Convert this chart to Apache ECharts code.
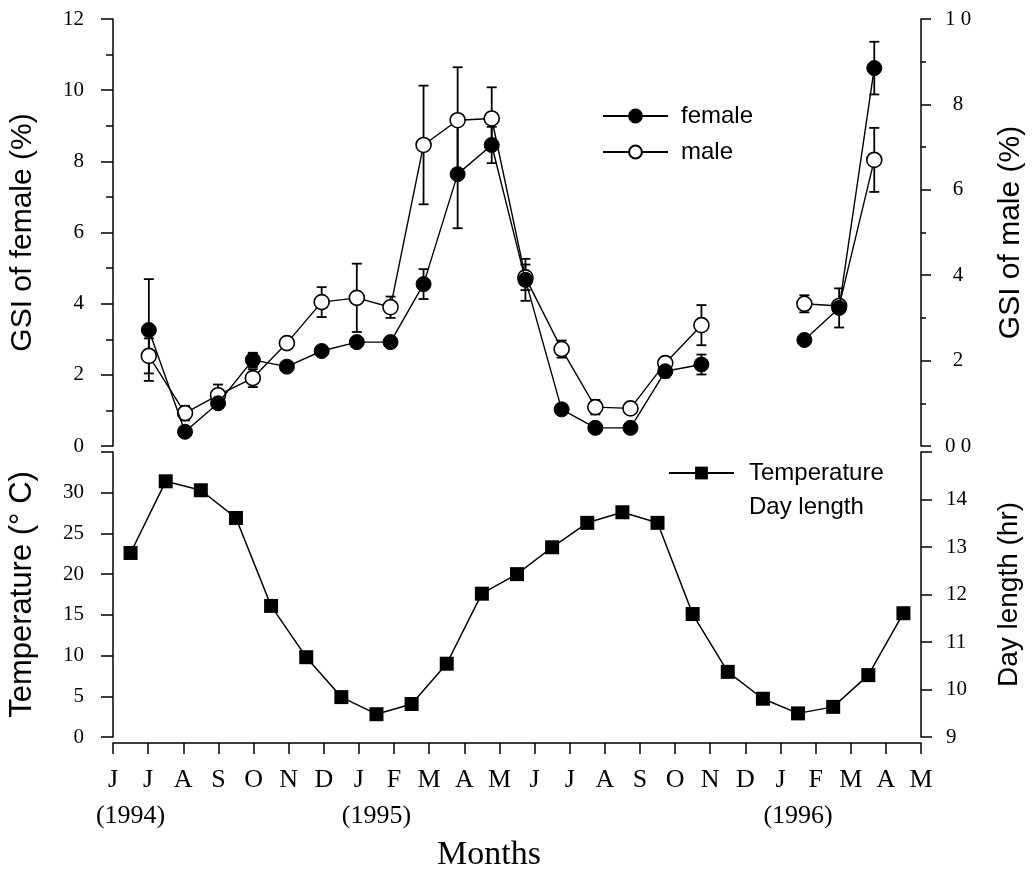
<!DOCTYPE html>
<html><head><meta charset="utf-8">
<script src="https://cdn.jsdelivr.net/npm/echarts@6.0.0/dist/echarts.min.js"></script>
<style>html,body{margin:0;padding:0;background:#fff}#c{width:1035px;height:871px}</style>
</head><body><div id="c"></div>
<script>
// ---- data ----
const monthLabels = ['J','J','A','S','O','N','D','J','F','M','A','M','J','J','A','S','O','N','D','J','F','M','A','M'];
const yearLabels = ['(1994)','','','','','','','(1995)','','','','','','','','','','','','(1996)','','',''];
// sampling date of GSI samples, in months from June 1994 (null = no sample)
const sampleMonth = [1.02, 2.05, 2.99, 3.98, 4.95, 5.94, 6.94, 7.90, 8.84, 9.81, 10.78, 11.74, 12.77, 13.73, 14.73, 15.72, 16.75, null, null, 19.68, 20.67, 21.67];
const femaleGSI = [3.26, 0.40, 1.20, 2.42, 2.23, 2.67, 2.92, 2.92, 4.55, 7.64, 8.46, 4.67, 1.03, 0.51, 0.51, 2.10, 2.29, null, null, 2.98, 3.88, 10.62];
const femaleSE  = [1.43, 0.05, 0.08, 0.20, 0.12, 0.12, 0.05, 0.05, 0.42, 1.52, 0.51, 0.59, 0.08, 0.03, 0.03, 0.17, 0.28, null, null, 0.05, 0.55, 0.74];
const maleGSI   = [2.11, 0.77, 1.19, 1.59, 2.41, 3.37, 3.47, 3.25, 7.05, 7.63, 7.67, 3.95, 2.27, 0.91, 0.88, 1.94, 2.83, null, null, 3.33, 3.28, 6.70];
const maleSE    = [0.41, 0.17, 0.25, 0.21, 0.10, 0.35, 0.80, 0.25, 1.39, 1.24, 0.73, 0.30, 0.20, 0.17, 0.06, 0.14, 0.47, null, null, 0.20, 0.10, 0.75];
// monthly mean water temperature, Jun 1994 .. Apr 1996
const temperature = [22.6, 31.4, 30.3, 26.9, 16.1, 9.8, 4.9, 2.8, 4.05, 9.0, 17.6, 20.0, 23.3, 26.3, 27.6, 26.3, 15.1, 8.0, 4.7, 2.9, 3.7, 7.6, 15.2];
const periodNames = temperature.map((_, i) => 'p' + i);

// ---- build ----
const SERIF = 'Liberation Serif';
const SANS = 'Liberation Sans';
function pts(vals) {
  return sampleMonth.map((x, i) => (x == null || vals[i] == null) ? ['-', '-'] : [x, vals[i]]);
}
function errPts(vals, se) {
  const out = [];
  sampleMonth.forEach((x, i) => { if (x != null && vals[i] != null) out.push([x, vals[i], se[i]]); });
  return out;
}
function errRenderer(params, api) {
  const x = api.value(0), y = api.value(1), e = api.value(2);
  const top = api.coord([x, y + e]), bot = api.coord([x, y - e]);
  const w = 5, st = { stroke: '#000', lineWidth: 1.8 };
  return { type: 'group', children: [
    { type: 'line', shape: { x1: top[0], y1: top[1], x2: bot[0], y2: bot[1] }, style: st },
    { type: 'line', shape: { x1: top[0] - w, y1: top[1], x2: top[0] + w, y2: top[1] }, style: st },
    { type: 'line', shape: { x1: bot[0] - w, y1: bot[1], x2: bot[0] + w, y2: bot[1] }, style: st }
  ]};
}
const axisLine = { show: true, onZero: false, lineStyle: { color: '#000', width: 1.5 } };
const tickStyle = { color: '#000', width: 1.5 };

const chart = echarts.init(document.getElementById('c'), null, { renderer: 'canvas' });
chart.setOption({
  animation: false,
  backgroundColor: '#fff',
  grid: [
    { left: 113, top: 19, width: 808, height: 427, outerBoundsMode: 'none', containLabel: false },
    { left: 113, top: 452, width: 808, height: 285, outerBoundsMode: 'none', containLabel: false },
    { left: 113, top: 452, width: 808, height: 285, outerBoundsMode: 'none', containLabel: false }
  ],
  xAxis: [
    { type: 'value', gridIndex: 0, min: 0, max: 23, show: false },
    { type: 'value', gridIndex: 1, min: 0, max: 23, interval: 1, position: 'bottom', offset: 6,
      axisLine: axisLine, axisTick: { show: true, length: 11, inside: false, lineStyle: tickStyle },
      splitLine: { show: false },
      axisLabel: { show: true, margin: 24, color: '#000', fontFamily: SERIF, fontSize: 26,
        formatter: v => monthLabels[v] || '' } },
    { type: 'category', gridIndex: 2, data: periodNames, boundaryGap: true, position: 'bottom', offset: 6,
      axisLine: { show: false }, axisTick: { show: false }, splitLine: { show: false },
      axisLabel: { show: true, interval: 0, margin: 60, color: '#000', fontFamily: SERIF, fontSize: 26,
        formatter: (v, i) => yearLabels[i] },
      name: 'Months', nameLocation: 'middle', nameGap: 95, nameMoveOverlap: false,
      nameTextStyle: { color: '#000', fontFamily: SERIF, fontSize: 34, padding: [0, 56, 0, 0] } }
  ],
  yAxis: [
    { type: 'value', gridIndex: 0, position: 'left', min: 0, max: 12, interval: 2,
      axisLine: axisLine, axisTick: { show: true, length: 12, lineStyle: tickStyle },
      minorTick: { show: true, splitNumber: 2, length: 7, lineStyle: tickStyle },
      splitLine: { show: false }, minorSplitLine: { show: false },
      axisLabel: { margin: 29, color: '#000', fontFamily: SERIF, fontSize: 21 },
      name: 'GSI of female (%)', nameLocation: 'middle', nameRotate: 90, nameGap: 75, nameMoveOverlap: false,
      nameTextStyle: { color: '#000', fontFamily: SANS, fontSize: 30 } },
    { type: 'value', gridIndex: 0, position: 'right', min: 0, max: 10, interval: 2,
      axisLine: axisLine, axisTick: { show: true, length: 10, lineStyle: tickStyle },
      minorTick: { show: true, splitNumber: 2, length: 5, lineStyle: tickStyle },
      splitLine: { show: false }, minorSplitLine: { show: false },
      axisLabel: { margin: 37, align: 'center', color: '#000', fontFamily: SERIF, fontSize: 21,
        formatter: v => v === 10 ? '1 0' : (v === 0 ? '0 0' : String(v)) },
      name: 'GSI of male (%)', nameLocation: 'middle', nameRotate: 90, nameGap: 75, nameMoveOverlap: false,
      nameTextStyle: { color: '#000', fontFamily: SANS, fontSize: 30 } },
    { type: 'value', gridIndex: 1, position: 'left', min: 0, max: 35, interval: 5,
      axisLine: axisLine, axisTick: { show: true, length: 12, lineStyle: tickStyle },
      splitLine: { show: false },
      axisLabel: { margin: 29, color: '#000', fontFamily: SERIF, fontSize: 21,
        formatter: v => v === 35 ? '' : String(v) },
      name: 'Temperature (° C)', nameLocation: 'middle', nameRotate: 90, nameGap: 75, nameMoveOverlap: false,
      nameTextStyle: { color: '#000', fontFamily: SANS, fontSize: 31 } },
    { type: 'value', gridIndex: 1, position: 'right', min: 9, max: 15, interval: 1,
      axisLine: axisLine, axisTick: { show: true, length: 11, lineStyle: tickStyle },
      splitLine: { show: false },
      axisLabel: { margin: 25, color: '#000', fontFamily: SERIF, fontSize: 21,
        formatter: v => v === 15 ? '' : String(v) },
      name: 'Day length (hr)', nameLocation: 'middle', nameRotate: 90, nameGap: 74, nameMoveOverlap: false,
      nameTextStyle: { color: '#000', fontFamily: SANS, fontSize: 28 } },
    { type: 'value', gridIndex: 2, min: 0, max: 35, show: false }
  ],
  legend: [
    { orient: 'vertical', left: 597, top: 99, itemWidth: 65, itemHeight: 16, itemGap: 12,
      data: ['female', 'male'],
      textStyle: { color: '#000', fontFamily: SANS, fontSize: 24, padding: [0, 0, 0, 8] } },
    { orient: 'vertical', left: 663, top: 456, itemWidth: 65, itemHeight: 16, itemGap: 10,
      data: ['Temperature', 'Day length'],
      textStyle: { color: '#000', fontFamily: SANS, fontSize: 24, padding: [0, 0, 0, 10] } }
  ],
  series: [
    { name: 'female SE', type: 'custom', xAxisIndex: 0, yAxisIndex: 0, renderItem: errRenderer,
      data: errPts(femaleGSI, femaleSE), z: 1, silent: true },
    { name: 'male SE', type: 'custom', xAxisIndex: 0, yAxisIndex: 1, renderItem: errRenderer,
      data: errPts(maleGSI, maleSE), z: 1, silent: true },
    { name: 'male', type: 'line', xAxisIndex: 0, yAxisIndex: 1, data: pts(maleGSI), connectNulls: false,
      symbol: 'circle', symbolSize: 15, showAllSymbol: true, z: 3,
      lineStyle: { color: '#000', width: 1.4 },
      itemStyle: { color: '#fff', borderColor: '#000', borderWidth: 1.6 } },
    { name: 'female', type: 'line', xAxisIndex: 0, yAxisIndex: 0, data: pts(femaleGSI), connectNulls: false,
      symbol: 'circle', symbolSize: 15, showAllSymbol: true, z: 4,
      lineStyle: { color: '#000', width: 1.4 },
      itemStyle: { color: '#000', borderColor: '#000', borderWidth: 1 } },
    { name: 'Temperature', type: 'line', xAxisIndex: 2, yAxisIndex: 4, data: temperature,
      symbol: 'rect', symbolSize: 14, showAllSymbol: true, z: 4,
      lineStyle: { color: '#000', width: 1.5 },
      itemStyle: { color: '#000' } },
    { name: 'Day length', type: 'line', xAxisIndex: 1, yAxisIndex: 3, data: [],
      symbol: 'none', lineStyle: { color: 'rgba(0,0,0,0)', width: 0 }, itemStyle: { color: 'rgba(0,0,0,0)' } }
  ]
});
</script>
</body></html>
